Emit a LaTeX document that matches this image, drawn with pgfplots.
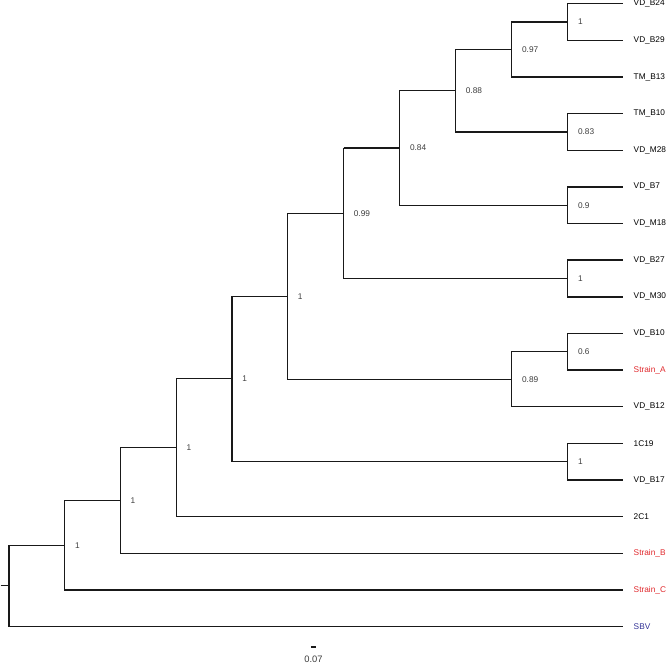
\documentclass[border=0pt]{standalone}
\usepackage{pgfplots}
\pgfplotsset{compat=1.18}
\usepackage{fontspec}
\setmainfont{Liberation Sans}
\definecolor{strainred}{RGB}{224,40,44}
\definecolor{sbvblue}{RGB}{50,50,150}
\definecolor{suppgray}{RGB}{60,60,60}
\tikzset{
  thk/.style={black!90, line width=1.05pt},
  thn/.style={black!90, line width=0.8pt},
  lab/.style={font=\fontsize{6.2}{7}\selectfont, anchor=west, inner sep=0pt},
  sup/.style={font=\fontsize{6.2}{7}\selectfont, anchor=west, inner sep=0pt, text=suppgray},
}
\begin{document}
\begin{tikzpicture}
\begin{axis}[
  width=499.5pt, height=498pt, scale only axis,
  xmin=0, xmax=666, ymin=0, ymax=664, y dir=reverse,
  hide axis, clip=false,
]
% root stub
\addplot[thn] coordinates {(0,584.5) (8.3,584.5)};
% A (root)
\addplot[thk] coordinates {(64,544) (8.3,544) (8.3,625) (620,625)};
% B
\addplot[thk] coordinates {(119.3,499.5) (64,499.5) (64,588.5) (620,588.5)};
% C
\addplot[thn] coordinates {(175,446.9) (119.3,446.9) (119.3,552)};
\addplot[thk] coordinates {(119.3,552) (620,552)};
% D
\addplot[thn] coordinates {(230.7,378.3) (175,378.3) (175,515.5)};
\addplot[thk] coordinates {(175,515.5) (620,515.5)};
% E
\addplot[thk] coordinates {(286,295.9) (230.7,295.9) (230.7,460.75) (565,460.75)};
% F
\addplot[thn] coordinates {(341.7,213.2) (286,213.2)};
\addplot[thk] coordinates {(286,213.2) (286,378.6) (509.3,378.6)};
% H
\addplot[thn] coordinates {(341.7,148.2) (341.7,278.25)};
\addplot[thk] coordinates {(341.7,148.2) (397.7,148.2)};
\addplot[thk] coordinates {(341.7,278.25) (565,278.25)};
% J
\addplot[thk] coordinates {(453.3,91.2) (397.7,91.2) (397.7,205.25) (565,205.25)};
% L
\addplot[thk] coordinates {(509.3,50.1) (453.3,50.1) (453.3,132.25) (565,132.25)};
% N
\addplot[thk] coordinates {(565,22.75) (509.3,22.75) (509.3,77.5) (620,77.5)};
% P
\addplot[thk] coordinates {(620,4.5) (565,4.5) (565,41) (620,41)};
% O
\addplot[thk] coordinates {(620,114) (565,114) (565,150.5) (620,150.5)};
% M
\addplot[thk] coordinates {(620,187) (565,187) (565,223.5) (620,223.5)};
% K
\addplot[thk] coordinates {(620,260) (565,260) (565,296.5) (620,296.5)};
% I
\addplot[thk] coordinates {(565,351.25) (509.3,351.25) (509.3,406) (620,406)};
% Q
\addplot[thk] coordinates {(620,333) (565,333) (565,369.5) (620,369.5)};
% G
\addplot[thk] coordinates {(620,442.5) (565,442.5) (565,479) (620,479)};
% scale bar
\addplot[thk] coordinates {(309.2,645.3) (314.2,645.3)};

% leaf labels
\node[lab] at (axis cs:630.5,4.5) {VD\_B24};
\node[lab] at (axis cs:630.5,41) {VD\_B29};
\node[lab] at (axis cs:630.5,77.5) {TM\_B13};
\node[lab] at (axis cs:630.5,114) {TM\_B10};
\node[lab] at (axis cs:630.5,150.5) {VD\_M28};
\node[lab] at (axis cs:630.5,187) {VD\_B7};
\node[lab] at (axis cs:630.5,223.5) {VD\_M18};
\node[lab] at (axis cs:630.5,260) {VD\_B27};
\node[lab] at (axis cs:630.5,296.5) {VD\_M30};
\node[lab] at (axis cs:630.5,333) {VD\_B10};
\node[lab, text=strainred] at (axis cs:630.5,369.5) {Strain\_A};
\node[lab] at (axis cs:630.5,406) {VD\_B12};
\node[lab] at (axis cs:630.5,442.5) {1C19};
\node[lab] at (axis cs:630.5,479) {VD\_B17};
\node[lab] at (axis cs:630.5,515.5) {2C1};
\node[lab, text=strainred] at (axis cs:630.5,552) {Strain\_B};
\node[lab, text=strainred] at (axis cs:630.5,588.5) {Strain\_C};
\node[lab, text=sbvblue] at (axis cs:630.5,625) {SBV};

% support values
\node[sup] at (axis cs:74,544) {1};
\node[sup] at (axis cs:129.3,499.5) {1};
\node[sup] at (axis cs:185,446.9) {1};
\node[sup] at (axis cs:240.7,378.3) {1};
\node[sup] at (axis cs:296,295.9) {1};
\node[sup] at (axis cs:351.7,213.2) {0.99};
\node[sup] at (axis cs:407.7,148.2) {0.84};
\node[sup] at (axis cs:463.3,91.2) {0.88};
\node[sup] at (axis cs:519.3,50.1) {0.97};
\node[sup] at (axis cs:575,22.75) {1};
\node[sup] at (axis cs:575,132.25) {0.83};
\node[sup] at (axis cs:575,205.25) {0.9};
\node[sup] at (axis cs:575,278.25) {1};
\node[sup] at (axis cs:519.3,378.6) {0.89};
\node[sup] at (axis cs:575,351.25) {0.6};
\node[sup] at (axis cs:575,460.75) {1};
% scale label
\node[font=\fontsize{7}{8}\selectfont, inner sep=0pt, text=suppgray] at (axis cs:311.7,658) {0.07};
\end{axis}
\end{tikzpicture}
\end{document}
